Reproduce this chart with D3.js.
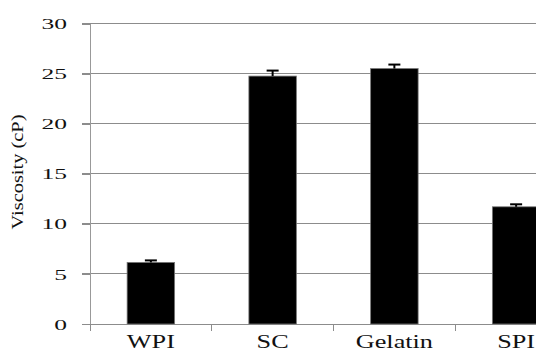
<!DOCTYPE html>
<html><head><meta charset="utf-8">
<script src="https://cdn.jsdelivr.net/npm/d3@7"></script>
<style>body{margin:0;background:#fff}svg{display:block}</style>
</head><body>
<svg id="c" width="536" height="353"></svg>
<script>
const categories = ["WPI", "SC", "Gelatin", "SPI"];
const values = [6.15, 24.75, 25.5, 11.7];
const errors = [0.2, 0.55, 0.4, 0.25];
const yTicks = [0, 5, 10, 15, 20, 25, 30];
const yLabel = "Viscosity (cP)";

const svg = d3.select("#c");
const x0 = 90, x1 = 577, yTop = 23.5, yBot = 324;
const x = d3.scaleBand().domain(categories).range([x0, x1]).paddingInner(0.61).paddingOuter(0.305);
const y = d3.scaleLinear().domain([0, 30]).range([yBot, yTop]);

// gridlines
svg.append("g").selectAll("line").data(yTicks.filter(d => d > 0)).join("line")
  .attr("x1", 82).attr("x2", 536).attr("y1", d => y(d)).attr("y2", d => y(d))
  .attr("stroke", "#8c8c8c").attr("stroke-width", 1).attr("shape-rendering", "crispEdges");

// y axis
const ya = svg.append("g").attr("transform", `translate(${x0},0)`)
  .call(d3.axisLeft(y).tickValues(yTicks).tickSize(8).tickPadding(0).tickFormat(d3.format("d")));
ya.select(".domain").attr("stroke", "#999").attr("shape-rendering", "crispEdges");
ya.selectAll(".tick line").attr("stroke", "#8c8c8c").attr("shape-rendering", "crispEdges");
const sy = 1.7;
ya.selectAll(".tick text")
  .attr("font-family", "Liberation Serif, Times New Roman, serif")
  .attr("font-size", 15).attr("fill", "#111")
  .attr("x", -23 / sy).attr("dy", "0.34em")
  .attr("transform", `scale(${sy},1)`);

// x axis
svg.append("line").attr("x1", x0).attr("x2", 536).attr("y1", yBot).attr("y2", yBot)
  .attr("stroke", "#8c8c8c").attr("shape-rendering", "crispEdges");
const bounds = categories.map((c, i) => x0 + x.step() * i);
svg.append("g").selectAll("line").data(bounds).join("line")
  .attr("x1", d => d).attr("x2", d => d).attr("y1", yBot).attr("y2", yBot + 7)
  .attr("stroke", "#8c8c8c").attr("shape-rendering", "crispEdges");

// bars
svg.append("g").selectAll("rect").data(categories).join("rect")
  .attr("x", d => x(d)).attr("width", x.bandwidth())
  .attr("y", (d, i) => y(values[i])).attr("height", (d, i) => yBot - y(values[i]))
  .attr("fill", "#000").attr("stroke", "#777").attr("stroke-width", 0.8);

// error bars
const eb = svg.append("g").attr("stroke", "#000").attr("stroke-width", 2);
categories.forEach((c, i) => {
  const cx = x(c) + x.bandwidth() / 2;
  eb.append("line").attr("x1", cx).attr("x2", cx).attr("y1", y(values[i])).attr("y2", y(values[i] + errors[i]));
  eb.append("line").attr("x1", cx - 6).attr("x2", cx + 6).attr("y1", y(values[i] + errors[i])).attr("y2", y(values[i] + errors[i]));
});

// x labels
const sx = 1.38;
svg.append("g").selectAll("text").data(categories).join("text")
  .attr("transform", d => `translate(${x(d) + x.bandwidth() / 2},348) scale(${sx},1)`)
  .attr("text-anchor", "middle")
  .attr("font-family", "Liberation Serif, Times New Roman, serif")
  .attr("font-size", 19).attr("fill", "#111")
  .text(d => d);

// y label
svg.append("text")
  .attr("transform", "translate(23,172) rotate(-90)")
  .attr("text-anchor", "middle")
  .attr("font-family", "Liberation Serif, Times New Roman, serif")
  .attr("font-size", 16).attr("fill", "#111")
  .attr("textLength", 115).attr("lengthAdjust", "spacingAndGlyphs")
  .text(yLabel);
</script>
</body></html>
